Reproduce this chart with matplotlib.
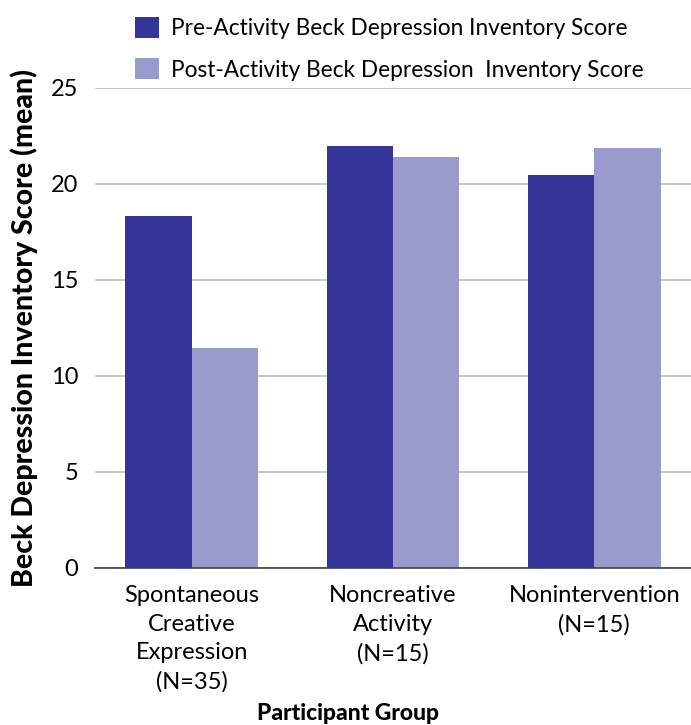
import numpy as np
import matplotlib
matplotlib.use('Agg')
import matplotlib.pyplot as plt

# --- data --------------------------------------------------------------
groups = ['Spontaneous\nCreative\nExpression\n(N=35)',
          'Noncreative\nActivity\n(N=15)',
          'Nonintervention\n(N=15)']
pre_scores = [18.3, 21.95, 20.45]
post_scores = [11.45, 21.4, 21.85]
series_labels = ['Pre-Activity Beck Depression Inventory Score',
                 'Post-Activity Beck Depression  Inventory Score']
yticks = [0, 5, 10, 15, 20, 25]

PRE_COL = '#343499'
POST_COL = '#9a9acc'

plt.rcParams['font.family'] = ['Lato', 'DejaVu Sans']

fig = plt.figure(figsize=(6.91, 7.25), dpi=100)
ax = fig.add_axes([95 / 691, 1 - 567.7 / 725, 1 - 95 / 691, (567.7 - 87.5) / 725])

x = np.arange(len(groups))
w = 0.33
b1 = ax.bar(x - w / 2, pre_scores, w, color=PRE_COL, zorder=3,
            label=series_labels[0])
b2 = ax.bar(x + w / 2, post_scores, w, color=POST_COL, zorder=3,
            label=series_labels[1])

ax.set_xlim(-0.48, 2.48)
ax.set_ylim(0, 25)
ax.set_yticks(yticks)
ax.set_xticks(x)
ax.set_xticklabels(groups, fontsize=17, linespacing=1.45)
ax.tick_params(axis='y', labelsize=17, length=0, pad=12)
ax.tick_params(axis='x', length=0, pad=12.5)
ax.yaxis.grid(True, color='#bdbdbd', lw=1.2, zorder=0)
for s in ('top', 'right', 'left'):
    ax.spines[s].set_visible(False)
ax.spines['bottom'].set_color('#404040')
ax.spines['bottom'].set_linewidth(1.2)
ax.spines['bottom'].set_zorder(4)

ax.set_ylabel('Beck Depression Inventory Score (mean)', fontsize=20.5,
              fontweight='black')
ax.yaxis.set_label_coords(-57 / 596, 0.5)
fig.text(348 / 691, 1 - 713 / 725, 'Participant Group', fontsize=16.5,
         fontweight='black', ha='center', va='center')

fig.legend(handles=[b1, b2], loc='upper left',
           bbox_to_anchor=(135 / 691, 1 - 17 / 725), frameon=False,
           fontsize=16.3, handlelength=1.05, handleheight=1.05,
           handletextpad=0.55, labelspacing=0.85, borderaxespad=0,
           borderpad=0)

fig.savefig('out.png', dpi=100)
